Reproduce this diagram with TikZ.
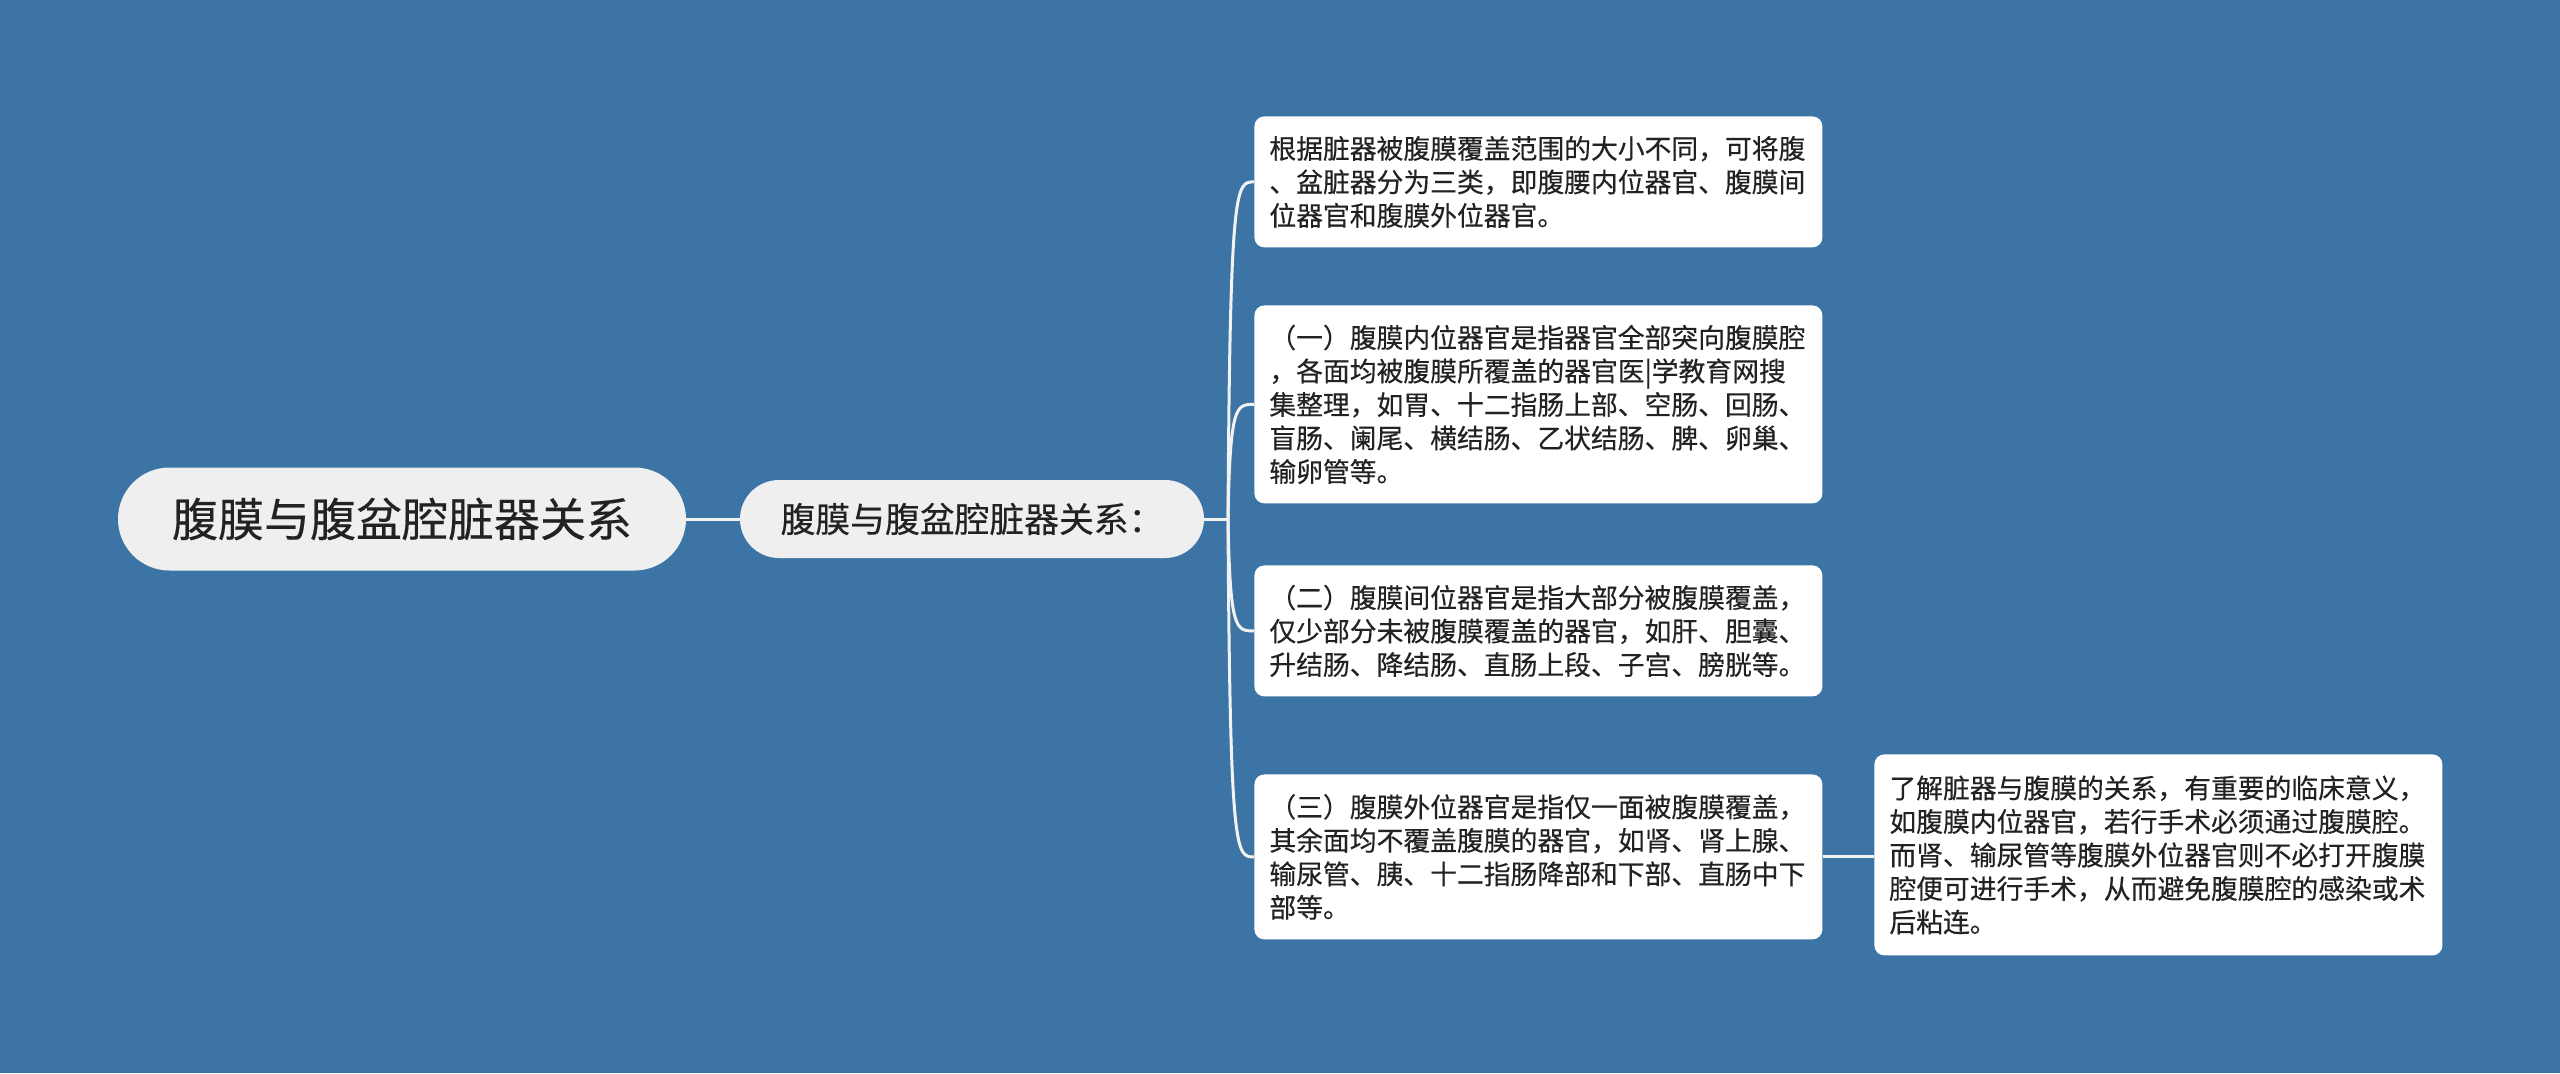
\documentclass[tikz,border=0pt]{standalone}
\usepackage{fontspec}
\setmainfont[FakeBold=0.35]{Noto Sans CJK SC}
\usetikzlibrary{calc}
\definecolor{bg}{HTML}{3D74A6}
\definecolor{pillfill}{HTML}{EFEFEF}
\definecolor{txt}{HTML}{222222}
\definecolor{linec}{HTML}{F2F2F2}
\begin{document}
\begin{tikzpicture}[x=0.5pt,y=-0.5pt,
  pill/.style={fill=pillfill, text=txt, inner sep=0pt},
  leaf/.style={fill=white, rounded corners=5pt, anchor=north west, text width=269pt,
    inner xsep=7.5pt, inner ysep=0pt, align=left, text=txt,
    font=\fontsize{13.4}{16.75}\selectfont},
  conn/.style={draw=linec, line width=1.5pt}]
\fill[bg] (0,0) rectangle (2560,1073);
\useasboundingbox (0,0) rectangle (2560,1073);

\node[pill, minimum width=284pt, minimum height=51.5pt, rounded corners=25.75pt,
  font=\fontsize{23}{28}\selectfont] (root) at (402,519) {腹膜与腹盆腔脏器关系};
\node[pill, minimum width=232pt, minimum height=39pt, rounded corners=19.5pt,
  font=\fontsize{17.4}{21}\selectfont] (mid) at (972,519) {腹膜与腹盆腔脏器关系：};

\node[leaf, minimum height=65.5pt] (l1) at (1254,116)
  {根据脏器被腹膜覆盖范围的大小不同，可将腹\\、盆脏器分为三类，即腹腰内位器官、腹膜间\\位器官和腹膜外位器官。};
\node[leaf, minimum height=99pt] (l2) at (1254,305)
  {（一）腹膜内位器官是指器官全部突向腹膜腔\\，各面均被腹膜所覆盖的器官医|学教育网搜\\集整理，如胃、十二指肠上部、空肠、回肠、\\盲肠、阑尾、横结肠、乙状结肠、脾、卵巢、\\输卵管等。};
\node[leaf, minimum height=65.5pt] (l3) at (1254,565)
  {（二）腹膜间位器官是指大部分被腹膜覆盖，\\仅少部分未被腹膜覆盖的器官，如肝、胆囊、\\升结肠、降结肠、直肠上段、子宫、膀胱等。};
\node[leaf, minimum height=82.5pt] (l4) at (1254,774)
  {（三）腹膜外位器官是指仅一面被腹膜覆盖，\\其余面均不覆盖腹膜的器官，如肾、肾上腺、\\输尿管、胰、十二指肠降部和下部、直肠中下\\部等。};
\node[leaf, minimum height=100.5pt] (l5) at (1874,754)
  {了解脏器与腹膜的关系，有重要的临床意义，\\如腹膜内位器官，若行手术必须通过腹膜腔。\\而肾、输尿管等腹膜外位器官则不必打开腹膜\\腔便可进行手术，从而避免腹膜腔的感染或术\\后粘连。};

\coordinate (j) at (1228,519);
\draw[conn] (root.east) -- (mid.west);
\draw[conn] (mid.east) -- (j);
\foreach \n in {l1,l2,l3,l4}
  \draw[conn] (j) .. controls ($(j |- \n.west)+(2,0)$) and ($(j |- \n.west)+(8,0)$) .. (\n.west);
\draw[conn] (l4.east) -- (l4.east -| l5.west);
\end{tikzpicture}
\end{document}
